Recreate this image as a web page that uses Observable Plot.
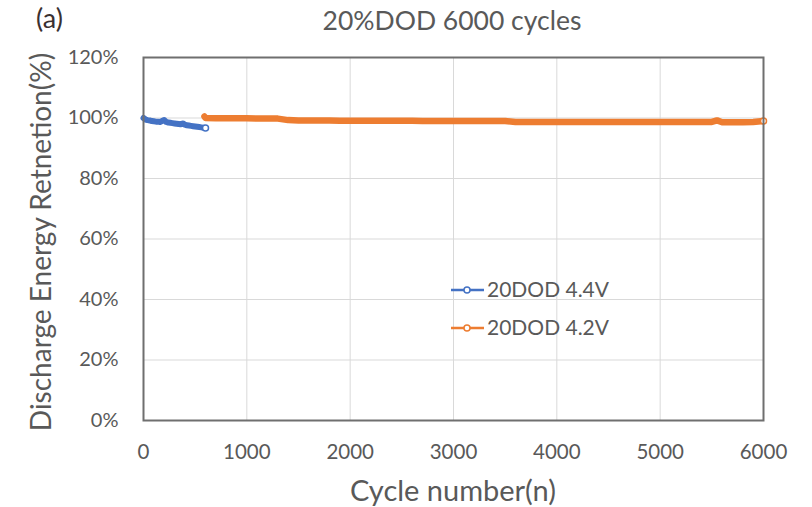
<!DOCTYPE html>
<html>
<head>
<meta charset="utf-8">
<script src="https://cdn.jsdelivr.net/npm/d3@7"></script>
<script src="https://cdn.jsdelivr.net/npm/@observablehq/plot@0.6"></script>
<style>
  html, body { margin: 0; padding: 0; background: #fff; }
  #chart svg { display: block; }
</style>
</head>
<body>
<div id="chart"></div>
<script>
// ---- data ----
const blueName = "20DOD 4.4V";
const orangeName = "20DOD 4.2V";
const blueCycles = [0, 20, 40, 60, 80, 100, 120, 140, 160, 180, 200, 220, 240, 260, 280, 300, 320, 340, 360, 380, 400, 420, 440, 460, 480, 500, 520, 540, 560, 580, 600];
const blueRetention = [1.000, 0.995, 0.993, 0.992, 0.990, 0.989, 0.988, 0.988, 0.987, 0.990, 0.993, 0.987, 0.985, 0.984, 0.983, 0.982, 0.981, 0.980, 0.979, 0.982, 0.978, 0.976, 0.975, 0.974, 0.973, 0.972, 0.971, 0.970, 0.969, 0.968, 0.967];
const orangeCycles = [590, 600, 700, 800, 900, 1000, 1100, 1200, 1300, 1400, 1500, 1600, 1700, 1800, 1900, 2000, 2100, 2200, 2300, 2400, 2500, 2600, 2700, 2800, 2900, 3000, 3100, 3200, 3300, 3400, 3500, 3600, 3700, 3800, 3900, 4000, 4100, 4200, 4300, 4400, 4500, 4600, 4700, 4800, 4900, 5000, 5100, 5200, 5300, 5400, 5500, 5550, 5600, 5700, 5800, 5900, 6000];
const orangeRetention = [1.005, 1.000, 0.999, 0.999, 0.999, 0.999, 0.998, 0.998, 0.998, 0.993, 0.992, 0.992, 0.992, 0.992, 0.991, 0.991, 0.991, 0.991, 0.991, 0.991, 0.991, 0.991, 0.990, 0.990, 0.990, 0.990, 0.990, 0.990, 0.990, 0.990, 0.990, 0.987, 0.987, 0.987, 0.987, 0.987, 0.987, 0.987, 0.987, 0.987, 0.987, 0.987, 0.987, 0.987, 0.987, 0.987, 0.987, 0.987, 0.987, 0.987, 0.987, 0.992, 0.986, 0.986, 0.986, 0.987, 0.990];
const xTicks = [0, 1000, 2000, 3000, 4000, 5000, 6000];
const yTicks = [0, 0.2, 0.4, 0.6, 0.8, 1.0, 1.2];
const titleText = "20%DOD 6000 cycles";
const panelLabel = "(a)";
const xLabel = "Cycle number(n)";
const yLabel = "Discharge Energy Retnetion(%)";

const blue = blueCycles.map((c, i) => ({cycle: c, value: blueRetention[i], series: blueName}));
const orange = orangeCycles.map((c, i) => ({cycle: c, value: orangeRetention[i], series: orangeName}));

const BLUE = "#4472c4";
const ORANGE = "#ed7d31";
const FONT = "Lato, 'Open Sans', sans-serif";
const TXT = "#595959";

const W = 812, H = 507;
const mL = 143, mR = 49, mT = 57, mB = 87;

const chart = Plot.plot({
  width: W,
  height: H,
  marginLeft: mL,
  marginRight: mR,
  marginTop: mT,
  marginBottom: mB,
  style: {fontFamily: FONT, fontSize: "20px", color: TXT, background: "#fff"},
  x: {domain: [0, 6000], label: null},
  y: {domain: [0, 1.2], label: null},
  marks: [
    Plot.gridX(xTicks, {stroke: "#d9d9d9", strokeOpacity: 1, strokeWidth: 1}),
    Plot.gridY(yTicks, {stroke: "#d9d9d9", strokeOpacity: 1, strokeWidth: 1}),
    Plot.axisX({ticks: xTicks, tickSize: 0, tickPadding: 24, fill: TXT, fontSize: 20.5, tickFormat: d3.format("d"), label: null}),
    Plot.axisY({ticks: yTicks, tickSize: 0, tickPadding: 25, fill: TXT, fontSize: 20, tickFormat: d => Math.round(d * 100) + "%", label: null}),
    Plot.line(blue, {x: "cycle", y: "value", stroke: BLUE, strokeWidth: 6, strokeLinejoin: "round", strokeLinecap: "round"}),
    Plot.line(orange, {x: "cycle", y: "value", stroke: ORANGE, strokeWidth: 6.5, strokeLinejoin: "round", strokeLinecap: "round"}),
    Plot.dot(blue.slice(-1), {x: "cycle", y: "value", r: 3, stroke: BLUE, strokeWidth: 1.5, fill: "#fff"}),
    Plot.dot(orange.slice(-1), {x: "cycle", y: "value", r: 3, stroke: ORANGE, strokeWidth: 1.5, fill: "#fff"}),
    Plot.frame({stroke: "#6f6f6f", strokeWidth: 2})
  ]
});

const svg = d3.select(chart);
const addText = (x, y, size, fill, txt, anchor) => svg.append("text")
  .attr("x", x).attr("y", y).attr("text-anchor", anchor)
  .style("font-family", FONT).style("font-size", size + "px").attr("fill", fill).text(txt);

addText(452, 30, 26.5, TXT, titleText, "middle");
addText(36, 28, 27, "#3a3030", panelLabel, "start");
addText(453, 501, 29, TXT, xLabel, "middle");
svg.append("text").attr("transform", "translate(51,242) rotate(-90)").attr("text-anchor", "middle")
  .style("font-family", FONT).style("font-size", "28px").attr("fill", TXT).text(yLabel);

// legend
const legend = [{name: blueName, color: BLUE, y: 290}, {name: orangeName, color: ORANGE, y: 328}];
legend.forEach(l => {
  svg.append("line").attr("x1", 451).attr("x2", 484).attr("y1", l.y).attr("y2", l.y)
    .attr("stroke", l.color).attr("stroke-width", 2.5);
  svg.append("circle").attr("cx", 467).attr("cy", l.y).attr("r", 3)
    .attr("stroke", l.color).attr("stroke-width", 1.5).attr("fill", "#fff");
  svg.append("text").attr("x", 487).attr("y", l.y).attr("dy", "0.35em").attr("text-anchor", "start")
    .style("font-family", FONT).style("font-size", "21px").attr("fill", TXT).text(l.name);
});

document.getElementById("chart").appendChild(chart);
</script>
</body>
</html>
